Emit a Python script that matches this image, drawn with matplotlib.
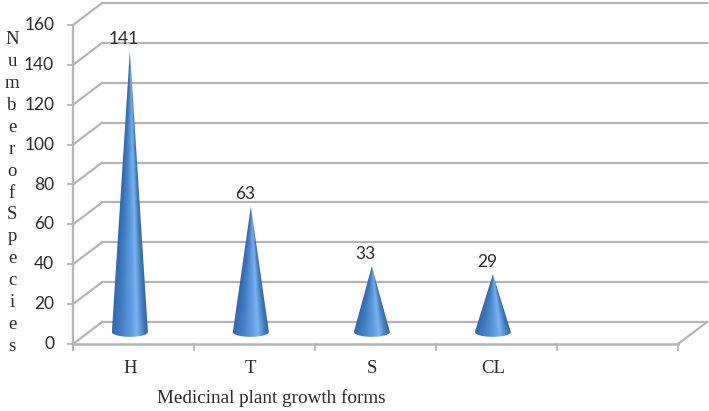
import numpy as np
import matplotlib
matplotlib.use('Agg')
import matplotlib.pyplot as plt
from matplotlib.colors import LinearSegmentedColormap
from matplotlib.patches import Polygon

# values
categories = ['H', 'T', 'S', 'CL']
species = [141, 63, 33, 29]
yticks = [0, 20, 40, 60, 80, 100, 120, 140, 160]
ylabel_text = 'NumberofSpecies'
xlabel_text = 'Medicinal plant growth forms'

W, H = 709, 411
SERIF = 'Liberation Serif'
SANS = 'Lato'
GRID = '#b4b6b6'
INK = '#2a2a2a'

fig = plt.figure(figsize=(W / 100, H / 100), dpi=100, facecolor='white')
ax = fig.add_axes([73 / W, (H - 344) / H, 605 / W, 319 / H])
ax.set_xlim(0, 5)
ax.set_ylim(0, 160)
ax.axis('off')

# depth of the fake 3d box, in data units
dx = 29 / 121
dy = 11.0

for v in yticks:
    ax.plot([0, dx], [v, v + dy], color=GRID, lw=1.6, clip_on=False, zorder=1)
    ax.plot([dx, 5 + dx], [v + dy, v + dy], color=GRID, lw=1.6, clip_on=False, zorder=1)
    ax.plot([-0.04, 0], [v, v], color=GRID, lw=1.3, clip_on=False, zorder=1)
    ax.text(-0.155, v, str(v), ha='right', va='center', fontsize=12.5, family=SANS, color=INK)

ax.plot([0, 0], [-3, 160], color=GRID, lw=1.6, clip_on=False, zorder=2)
ax.plot([0, 5], [0, 0], color=GRID, lw=1.8, clip_on=False, zorder=2)
ax.plot([5, 5 + dx], [0, dy], color=GRID, lw=1.6, clip_on=False, zorder=2)
for i in range(1, 6):
    ax.plot([i, i], [-3, 0], color=GRID, lw=1.3, clip_on=False, zorder=2)

cmap = LinearSegmentedColormap.from_list('cone', [
    (0.0, '#3469ad'), (0.25, '#437dc4'), (0.55, '#659fe2'),
    (0.68, '#7ab3f0'), (0.85, '#477fc2'), (1.0, '#2f5f9a')])

half_w = 0.149
base_y = 6.0
ell = 2.4
for i, (cat, val) in enumerate(zip(categories, species)):
    xc = i + 0.47
    top = base_y + val
    # conical shading: horizontal position relative to the width at that height
    xs = np.linspace(xc - half_w, xc + half_w, 90)
    ys = np.linspace(base_y - ell - 0.5, top, 300)
    X, Y = np.meshgrid(xs, ys)
    frac = np.clip((top - Y) / val, 0.01, 1)
    u = np.clip((X - xc) / (half_w * frac) * 0.5 + 0.5, 0, 1)
    im = ax.imshow(u, extent=[xs[0], xs[-1], ys[0], ys[-1]], origin='lower', cmap=cmap,
                   vmin=0, vmax=1, aspect='auto', zorder=3, interpolation='bilinear')
    t = np.linspace(0, np.pi, 40)
    outline = [(xc, top)] + [(xc + half_w * np.cos(a), base_y - ell * np.sin(a)) for a in t]
    clip = Polygon(outline, closed=True, transform=ax.transData)
    im.set_clip_path(clip)
    ax.text(xc - 0.05, val + 12, str(val), ha='center', va='center', fontsize=12.5,
            family=SANS, color=INK, zorder=5)
    ax.text(xc, -12.5, cat, ha='center', va='center', fontsize=13.5, family=SERIF, color=INK)

ax.set_xlim(0, 5)
ax.set_ylim(0, 160)

fig.text(12 / W, 1 - 193 / H, '\n'.join(ylabel_text), ha='center', va='center', fontsize=13.5,
         family=SERIF, color=INK, linespacing=1.38)
fig.text(271 / W, 1 - 398 / H, xlabel_text, ha='center', va='center', fontsize=13.8,
         family=SERIF, color=INK)

fig.savefig('out.png', dpi=100)
